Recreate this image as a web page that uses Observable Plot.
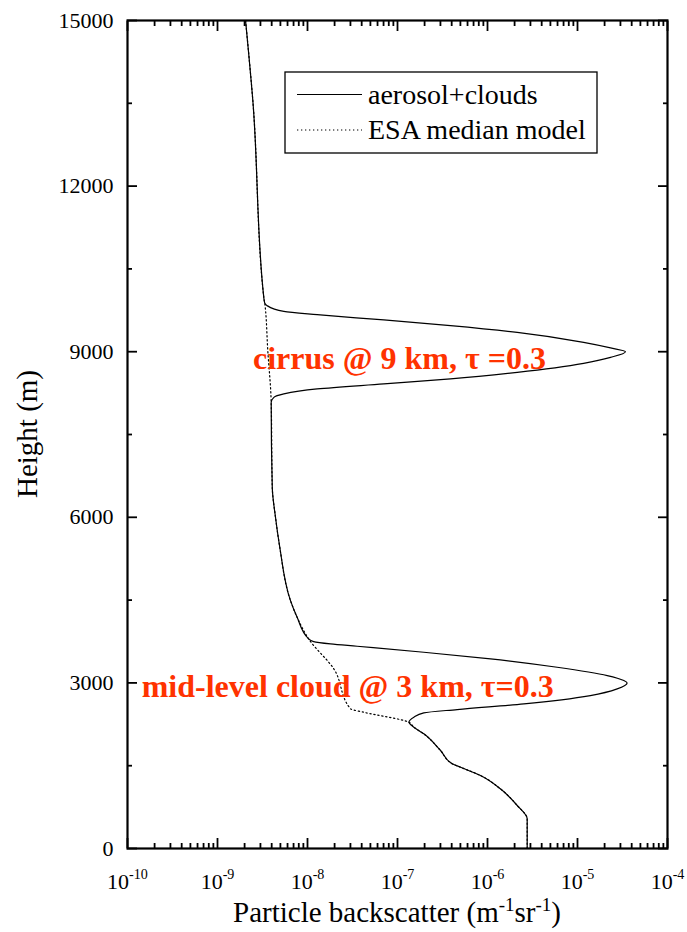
<!DOCTYPE html>
<html>
<head>
<meta charset="utf-8">
<script src="https://cdn.jsdelivr.net/npm/d3@7"></script>
<script src="https://cdn.jsdelivr.net/npm/@observablehq/plot@0.6"></script>
<style>
  html, body { margin: 0; padding: 0; background: #fff; }
  #chart svg { display: block; }
</style>
</head>
<body>
<div id="chart"></div>
<script>
// Aerosol + cloud backscatter profile (height in m, backscatter in m^-1 sr^-1)
const profileHeight = [15000, 13546, 9979, 9880, 9834, 9730, 9671, 9575, 9472, 9350, 9169, 9068, 9000,
  8897, 8789, 8626, 8506, 8416, 8325, 8235, 8173, 8083, 6543, 6000, 5457, 4491, 4189, 3797,
  3749, 3707, 3664, 3555, 3435, 3283, 3133, 3042, 3000, 2892, 2771, 2620, 2517, 2457, 2378,
  2287, 2197, 2077, 1775, 1534, 1485, 1322, 1081, 779, 538, 0];
const profileValue = [2.05e-9, 2.47e-9, 3.27e-9, 3.35e-9, 3.56e-9, 5.46e-9, 1.28e-8, 7.05e-8, 3.88e-7, 2.14e-6, 1.17e-5, 2.33e-5, 3.41e-5,
  2.33e-5, 1.17e-5, 2.14e-6, 3.88e-7, 7.05e-8, 1.28e-8, 5.46e-9, 4.23e-9, 3.95e-9, 4.06e-9, 4.41e-9, 4.92e-9, 6.47e-9, 7.67e-9, 1.03e-8,
  1.17e-8, 1.80e-8, 3.56e-8, 1.96e-7, 1.08e-6, 5.94e-6, 2.14e-5, 3.27e-5, 3.56e-5, 2.76e-5, 1.39e-5, 2.54e-6, 4.60e-7, 1.96e-7, 1.52e-7,
  1.34e-7, 1.52e-7, 1.96e-7, 3.01e-7, 4.06e-7, 4.80e-7, 8.36e-7, 1.39e-6, 2.14e-6, 2.76e-6, 2.76e-6];

// ESA median aerosol model (no clouds)
const esaHeight = [15000, 13546, 9979, 9880, 9019, 8083, 6543, 6000, 5457, 4491, 4189, 3797, 3254, 2530, 2468,
  2287, 2197, 2077, 1775, 1534, 1485, 1322, 1081, 779, 538, 0];
const esaValue = [2.05e-9, 2.47e-9, 3.27e-9, 3.35e-9, 3.62e-9, 3.95e-9, 4.06e-9, 4.41e-9, 4.92e-9, 6.47e-9, 7.67e-9, 1.03e-8, 1.96e-8, 3.01e-8, 4.23e-8,
  1.34e-7, 1.52e-7, 1.96e-7, 3.01e-7, 4.06e-7, 4.80e-7, 8.36e-7, 1.39e-6, 2.14e-6, 2.76e-6, 2.76e-6];

// Axis ticks
const xMajorTicks = [1e-10, 1e-9, 1e-8, 1e-7, 1e-6, 1e-5, 1e-4];
const xMinorTicks = xMajorTicks.slice(0, -1).flatMap(d => [2, 3, 4, 5, 6, 7, 8, 9].map(k => k * d));
const yMajorTicks = [0, 3000, 6000, 9000, 12000, 15000];
const yMinorTicks = [1500, 4500, 7500, 10500, 13500];

// Labels
const legendLabels = ["aerosol+clouds", "ESA median model"];
const cloudLabels = ["cirrus @ 9 km, \u03C4 =0.3", "mid-level cloud @ 3 km, \u03C4=0.3"];
const cloudLabelHeight = [8880, 2930];
const cloudLabelValue = [1.05e-7, 2.8e-8];

const profile = profileHeight.map((h, i) => ({h, v: profileValue[i]}));
const esa = esaHeight.map((h, i) => ({h, v: esaValue[i]}));
const annotations = cloudLabels.map((t, i) => ({t, h: cloudLabelHeight[i], v: cloudLabelValue[i]}));

const W = 687, H = 932;
const mL = 127, mR = 20, mT = 20, mB = 84;
const noText = () => "";
const serif = "'Liberation Serif', 'Times New Roman', serif";

const chart = Plot.plot({
  width: W,
  height: H,
  marginLeft: mL,
  marginRight: mR,
  marginTop: mT,
  marginBottom: mB,
  style: {fontFamily: serif, fontSize: "22px", color: "#000", background: "#fff"},
  x: {type: "log", domain: [1e-10, 1e-4]},
  y: {domain: [0, 15000]},
  marks: [
    Plot.line(esa, {x: "v", y: "h", stroke: "#000", strokeWidth: 1.2, strokeDasharray: "1.3,2.7", curve: "monotone-y"}),
    Plot.line(profile, {x: "v", y: "h", stroke: "#000", strokeWidth: 1.2, curve: "monotone-y"}),
    Plot.text(annotations, {x: "v", y: "h", text: "t", fill: "#ff3300", fontWeight: "bold", fontSize: 32,
      fontFamily: serif, textAnchor: "middle", lineAnchor: "middle"}),
    // bottom axis
    Plot.axisX(xMajorTicks, {anchor: "bottom", tickSize: -10, tickPadding: 35, strokeWidth: 1.8, label: null,
      tickFormat: d => "10|" + Math.round(Math.log10(d)), fontSize: 22}),
    Plot.axisX(xMinorTicks, {anchor: "bottom", tickSize: -5, strokeWidth: 1.8, label: null, tickFormat: noText}),
    // top axis
    Plot.axisX(xMajorTicks, {anchor: "top", tickSize: -10, strokeWidth: 1.8, label: null, tickFormat: noText}),
    Plot.axisX(xMinorTicks, {anchor: "top", tickSize: -5, strokeWidth: 1.8, label: null, tickFormat: noText}),
    // left axis
    Plot.axisY(yMajorTicks, {anchor: "left", tickSize: -10, tickPadding: 24, strokeWidth: 1.8, label: null,
      tickFormat: d => String(d), fontSize: 22}),
    Plot.axisY(yMinorTicks, {anchor: "left", tickSize: -5, strokeWidth: 1.8, label: null, tickFormat: noText}),
    // right axis
    Plot.axisY(yMajorTicks, {anchor: "right", tickSize: -10, strokeWidth: 1.8, label: null, tickFormat: noText}),
    Plot.axisY(yMinorTicks, {anchor: "right", tickSize: -5, strokeWidth: 1.8, label: null, tickFormat: noText}),
    Plot.frame({stroke: "#000", strokeWidth: 2.2})
  ]
});

const svg = d3.select(chart);

// Power-of-ten tick labels with raised exponents
svg.selectAll("text").each(function () {
  const s = this.textContent;
  if (!s.includes("|")) return;
  const [base, exp] = s.split("|");
  const t = d3.select(this);
  t.text(null);
  t.append("tspan").text(base);
  t.append("tspan").attr("dy", -10).attr("font-size", "0.64em").text(exp);
});

// Axis titles
const xt = svg.append("text")
  .attr("x", mL + (W - mL - mR) / 2).attr("y", 922)
  .attr("text-anchor", "middle").attr("font-family", serif).attr("font-size", 29).attr("fill", "#000");
xt.append("tspan").text("Particle backscatter (m");
xt.append("tspan").attr("dy", -11).attr("font-size", 19).text("-1");
xt.append("tspan").attr("dy", 11).text("sr");
xt.append("tspan").attr("dy", -11).attr("font-size", 19).text("-1");
xt.append("tspan").attr("dy", 11).text(")");

svg.append("text")
  .attr("transform", `translate(37,${mT + (H - mT - mB) / 2}) rotate(-90)`)
  .attr("text-anchor", "middle").attr("font-family", serif).attr("font-size", 29).attr("fill", "#000")
  .text("Height (m)");

// Legend
const lg = svg.append("g").attr("font-family", serif).attr("font-size", 28).attr("text-anchor", "start");
lg.append("rect").attr("x", 285).attr("y", 72).attr("width", 312).attr("height", 81)
  .attr("fill", "#fff").attr("stroke", "#000").attr("stroke-width", 1.3);
legendLabels.forEach((label, i) => {
  const y = 94.5 + i * 35.5;
  lg.append("line").attr("x1", 297).attr("x2", 362).attr("y1", y).attr("y2", y)
    .attr("stroke", "#000").attr("stroke-width", 1.2)
    .attr("stroke-dasharray", i === 1 ? "1.3,2.7" : null);
  lg.append("text").attr("x", 368).attr("y", y + 9).attr("fill", "#000").attr("text-anchor", "start").text(label);
});

document.getElementById("chart").appendChild(chart);
</script>
</body>
</html>
